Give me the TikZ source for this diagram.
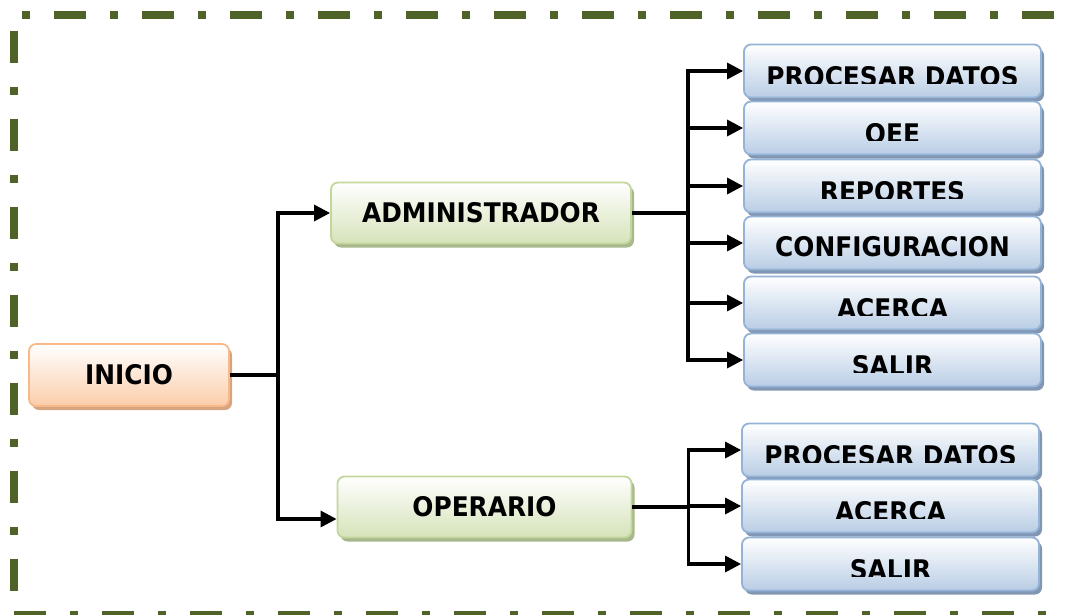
\documentclass[tikz,border=0pt]{standalone}
\usepackage{fontspec}
\setmainfont{DejaVu Sans}
\newfontfamily\lblface[FakeStretch=0.92]{DejaVu Sans}
\usetikzlibrary{arrows.meta,shadows}

\definecolor{frameG}{HTML}{4F6228}
\definecolor{iniB}{HTML}{F8B88A}
\definecolor{iniF}{HTML}{FBCDAA}
\definecolor{iniS}{HTML}{D6A47F}
\definecolor{grnB}{HTML}{C3D69B}
\definecolor{grnF}{HTML}{D5E3B9}
\definecolor{grnS}{HTML}{A8B88C}
\definecolor{bluB}{HTML}{95B3D7}
\definecolor{bluF}{HTML}{B9CDE5}
\definecolor{bluS}{HTML}{8096B2}

\newcommand\lblfont{\lblface\fontsize{27}{32}\selectfont\bfseries}

\tikzset{
  frame/.style={draw=frameG, line width=8pt},
  box/.style={rounded corners=7pt, line width=1.8pt, inner sep=0pt, font=\lblfont},
  inibox/.style={box, draw=iniB, top color=white, bottom color=iniF,
    drop shadow={shadow xshift=3pt, shadow yshift=-4pt, fill=iniS, opacity=1},
    minimum width=200pt, minimum height=62pt},
  grnbox/.style={box, draw=grnB, top color=white, bottom color=grnF,
    drop shadow={shadow xshift=3pt, shadow yshift=-4pt, fill=grnS, opacity=1},
    minimum height=61pt},
  blubox/.style={box, draw=bluB, top color=white, bottom color=bluF,
    drop shadow={shadow xshift=3pt, shadow yshift=-4pt, fill=bluS, opacity=1},
    minimum width=297pt, minimum height=53pt},
  % label set low in the box and cut off near its lower edge
  cutlbl/.style={path picture={
      \clip ([yshift=-39pt]path picture bounding box.north west)
        rectangle (path picture bounding box.north east);
      \node[font=\lblfont, inner sep=0pt, draw=none, fill=none,
        minimum width=0pt, minimum height=0pt, rounded corners=0pt]
        at ([yshift=-6pt]path picture bounding box.center) {#1};}},
  fulllbl/.style={path picture={
      \node[font=\lblfont, inner sep=0pt, draw=none, fill=none,
        minimum width=0pt, minimum height=0pt, rounded corners=0pt]
        at ([yshift=-4pt]path picture bounding box.center) {#1};}},
  conn/.style={line width=3.2pt, black},
  arr/.style={conn, -{Triangle[length=16pt,width=16pt]}}
}

\begin{document}
\begin{tikzpicture}[x=1pt,y=-1pt]
\useasboundingbox (0,0) rectangle (1066,614);

% dash-dot frame
\begin{scope}
  \clip (0,0) rectangle (1066,614);
  \draw[frame, dash pattern=on 8pt off 24pt on 32pt off 24pt] (22,15) -- (1075,15);
  \draw[frame, dash pattern=on 32pt off 24pt on 8pt off 24pt] (14,31) -- (14,625);
  \draw[frame, dash pattern=on 32pt off 24pt on 8pt off 24pt] (14,615) -- (1075,615);
\end{scope}

% main nodes
\node[inibox] (ini) at (129,375) {INICIO};
\node[grnbox, minimum width=300pt] (adm) at (481,213) {ADMINISTRADOR};
\node[grnbox, minimum width=294pt] (op) at (484.5,507) {OPERARIO};

% administrator options
\node[blubox, cutlbl={PROCESAR DATOS}] (a1) at (892.5,71) {};
\node[blubox, cutlbl={OEE}] (a2) at (892.5,128) {};
\node[blubox, cutlbl={REPORTES}] (a3) at (892.5,186) {};
\node[blubox, fulllbl={CONFIGURACION}] (a4) at (892.5,243) {};
\node[blubox, cutlbl={ACERCA}] (a5) at (892.5,303) {};
\node[blubox, cutlbl={SALIR}] (a6) at (892.5,360) {};

% operator options
\node[blubox, cutlbl={PROCESAR DATOS}] (o1) at (890.5,450) {};
\node[blubox, cutlbl={ACERCA}] (o2) at (890.5,506) {};
\node[blubox, cutlbl={SALIR}] (o3) at (890.5,564) {};

% connectors
\draw[conn] (ini.east) -- ++(48,0) coordinate (s1);
\draw[arr] (s1) |- (adm.west);
\draw[arr] (s1) |- ([yshift=-12pt]op.west);

\draw[conn] (adm.east) -- ++(56,0) coordinate (s2);
\foreach \t in {a1,a2,a3,a4,a5,a6}
  \draw[arr] (s2) |- (\t.west);

\draw[conn] (op.east) -- ++(56,0) coordinate (s3);
\foreach \t in {o1,o2,o3}
  \draw[arr] (s3) |- (\t.west);
\end{tikzpicture}
\end{document}
